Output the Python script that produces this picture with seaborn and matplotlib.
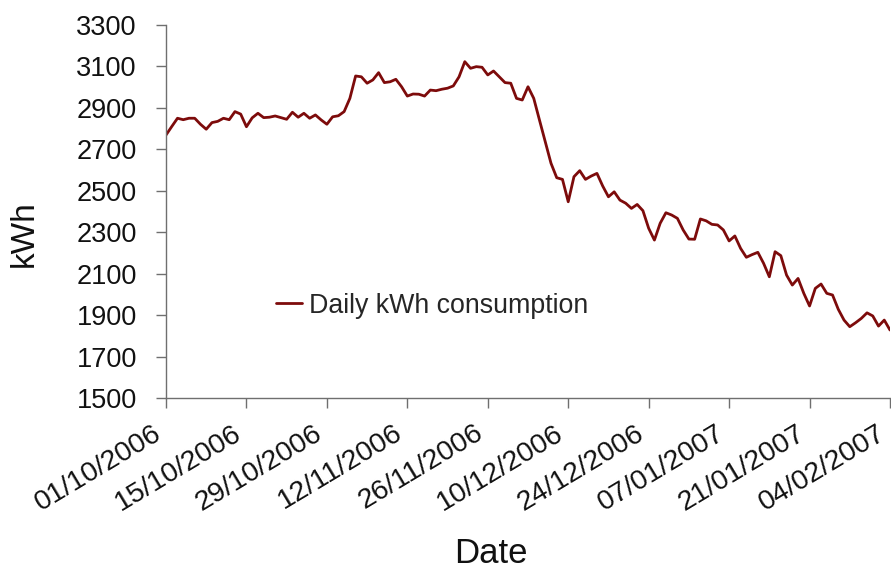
import numpy as np
import pandas as pd
import matplotlib
matplotlib.use("Agg")
import matplotlib.pyplot as plt
import matplotlib.dates as mdates
import seaborn as sns

# ---- data (daily kWh) ----
start_date = "2006-10-01"
daily_kwh = [
    2769, 2810, 2850, 2843, 2850, 2850, 2821, 2797, 2829, 2835,
    2850, 2843, 2882, 2870, 2809, 2852, 2874, 2853, 2855, 2861,
    2853, 2845, 2879, 2855, 2874, 2850, 2866, 2842, 2821, 2857,
    2862, 2882, 2946, 3054, 3050, 3019, 3035, 3070, 3022, 3026,
    3038, 3002, 2957, 2967, 2966, 2957, 2986, 2983, 2990, 2995,
    3006, 3050, 3123, 3091, 3099, 3096, 3059, 3078, 3050, 3022,
    3019, 2946, 2938, 3002, 2946, 2841, 2737, 2633, 2563, 2555,
    2447, 2568, 2597, 2555, 2571, 2584, 2523, 2471, 2495, 2455,
    2440, 2415, 2434, 2404, 2319, 2262, 2343, 2394, 2383, 2367,
    2311, 2267, 2266, 2364, 2355, 2338, 2335, 2311, 2258, 2282,
    2222, 2179, 2192, 2203, 2150, 2085, 2206, 2187, 2093, 2045,
    2077, 2005, 1944, 2029, 2050, 2005, 1997, 1928, 1876, 1844,
    1863, 1884, 1911, 1896, 1847, 1876, 1828,
]
series_label = "Daily kWh consumption"
tick_dates = ["2006-10-01", "2006-10-15", "2006-10-29", "2006-11-12",
              "2006-11-26", "2006-12-10", "2006-12-24", "2007-01-07",
              "2007-01-21", "2007-02-04"]
y_ticks = [1500, 1700, 1900, 2100, 2300, 2500, 2700, 2900, 3100, 3300]

dates = pd.date_range(start_date, periods=len(daily_kwh), freq="D")
df = pd.DataFrame({"Date": dates, "kWh": daily_kwh})

sns.set_style("white")
plt.rcParams["font.family"] = ["Liberation Sans", "DejaVu Sans"]

fig = plt.figure(figsize=(8.91, 5.76), dpi=100)
ax = fig.add_axes([166 / 891, 1 - 398 / 576, (890 - 166) / 891, (398 - 25) / 576])

sns.lineplot(data=df, x="Date", y="kWh", ax=ax, color="#7d0b0b",
             linewidth=2.0, label=series_label)

ax.set_ylim(1500, 3300)
ax.set_yticks(y_ticks)
ax.set_xlim(pd.Timestamp(tick_dates[0]), pd.Timestamp(tick_dates[-1]))
ax.set_xticks([pd.Timestamp(d) for d in tick_dates])
ax.xaxis.set_major_formatter(mdates.DateFormatter("%d/%m/%Y"))

axis_col = "#6f6f6f"
for s in ["top", "right"]:
    ax.spines[s].set_visible(False)
for s in ["left", "bottom"]:
    ax.spines[s].set_color(axis_col)
    ax.spines[s].set_linewidth(1.0)

ax.tick_params(axis="y", direction="out", length=7, width=1.0, color=axis_col,
               labelsize=19.5, pad=14, labelcolor="#111111", left=True)
ax.tick_params(axis="x", direction="out", length=7, width=1.0, color=axis_col,
               labelsize=20.5, pad=25, labelcolor="#111111", bottom=True)
for lab in ax.get_xticklabels():
    lab.set_rotation(31)
    lab.set_ha("right")
    lab.set_va("bottom")
    lab.set_rotation_mode("anchor")

ax.set_ylabel("kWh", fontsize=24, color="#111111")
ax.set_xlabel("Date", fontsize=25, color="#111111")
ax.yaxis.set_label_coords(-0.174, 0.44)
ax.xaxis.set_label_coords(0.449, -0.372)

leg = ax.legend(loc="center left", bbox_to_anchor=(0.118, 0.247), frameon=False,
                fontsize=19.3, handlelength=1.0, handletextpad=0.25)

fig.savefig("out.png", dpi=100)
